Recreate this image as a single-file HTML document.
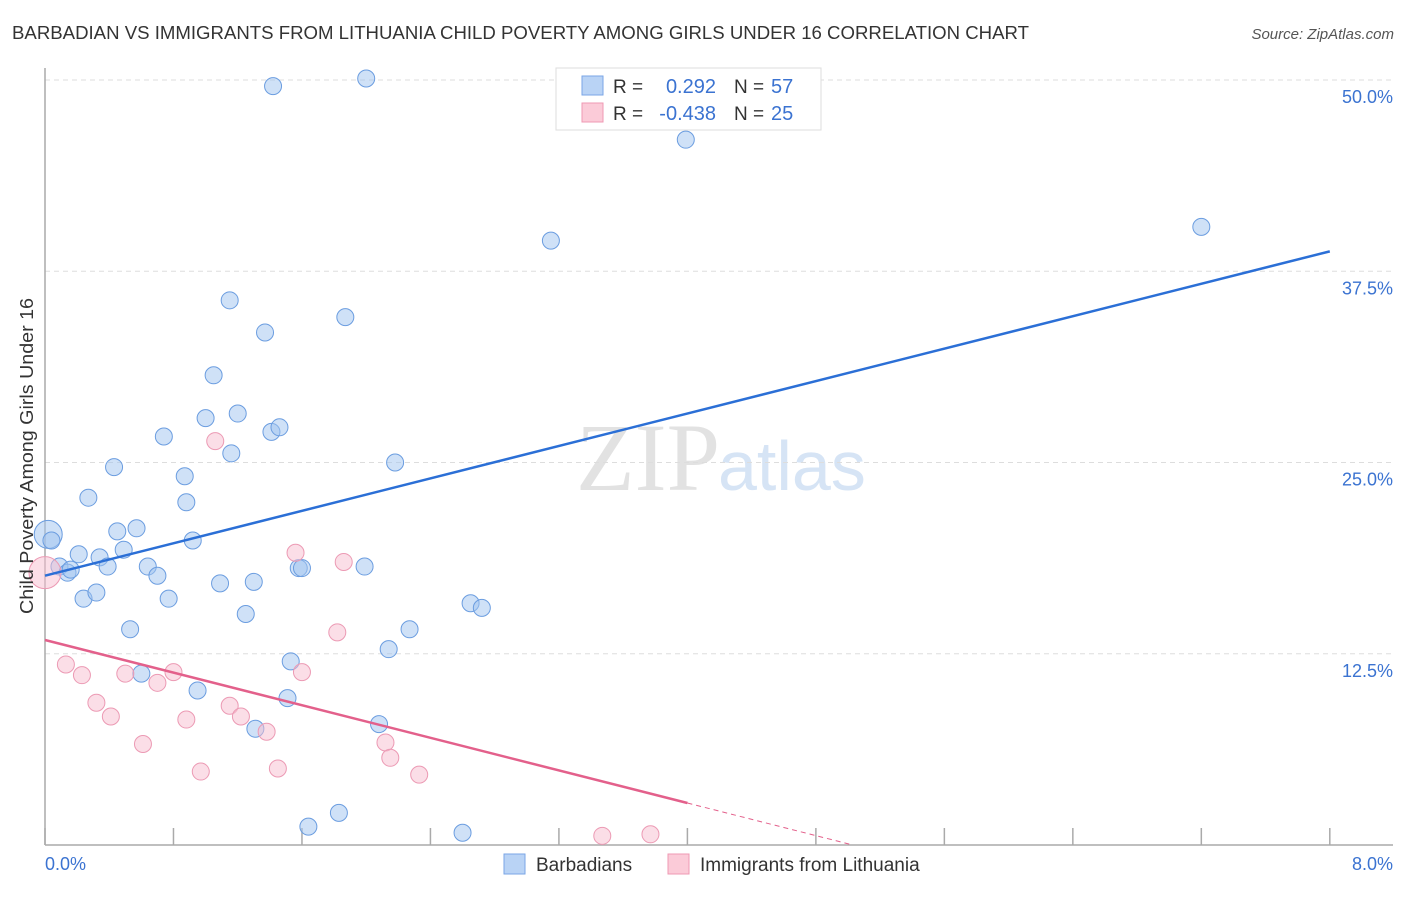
<!DOCTYPE html>
<html><head><meta charset="utf-8"><style>
body{margin:0;background:#fff;font-family:"Liberation Sans",sans-serif;}
</style></head><body>
<svg id="chart" width="1406" height="892" xmlns="http://www.w3.org/2000/svg">
<text x="12" y="39" font-size="18" fill="#333" textLength="1017" lengthAdjust="spacingAndGlyphs">BARBADIAN VS IMMIGRANTS FROM LITHUANIA CHILD POVERTY AMONG GIRLS UNDER 16 CORRELATION CHART</text>
<text x="1394" y="39" font-size="15" fill="#555" font-style="italic" text-anchor="end">Source: ZipAtlas.com</text>
<text x="720" y="490" font-size="96" fill="#e2e2e2" text-anchor="end" font-family="Liberation Serif">ZIP</text>
<text x="718" y="490" font-size="70" fill="#d6e4f5">atlas</text>
<g id="grid"></g>
<g id="axes"></g>
<g id="pts"></g>
<g id="lines"></g>
<text transform="translate(33,456) rotate(-90)" font-size="18" fill="#333" text-anchor="middle" textLength="316" lengthAdjust="spacingAndGlyphs">Child Poverty Among Girls Under 16</text>
<text x="45" y="870" font-size="18" fill="#3b73d1">0.0%</text>
<text x="1393" y="870" font-size="18" fill="#3b73d1" text-anchor="end">8.0%</text>
<g>
<rect x="556" y="68" width="265" height="62" fill="#fff" stroke="#ddd"/>
<rect x="582" y="76" width="21" height="19" fill="#b9d3f5" stroke="#7aa6e6"/>
<rect x="582" y="103" width="21" height="19" fill="#fbcbd8" stroke="#ef98b3"/>
<text x="613" y="93" font-size="19" fill="#333">R = </text>
<text x="716" y="93" font-size="20" fill="#3b73d1" text-anchor="end">0.292</text>
<text x="734" y="93" font-size="19" fill="#333">N = </text>
<text x="771" y="93" font-size="20" fill="#3b73d1">57</text>
<text x="613" y="120" font-size="19" fill="#333">R = </text>
<text x="716" y="120" font-size="20" fill="#3b73d1" text-anchor="end">-0.438</text>
<text x="734" y="120" font-size="19" fill="#333">N = </text>
<text x="771" y="120" font-size="20" fill="#3b73d1">25</text>
</g>
<g>
<rect x="504" y="854" width="21" height="20" fill="#b9d3f5" stroke="#7aa6e6"/>
<text x="536" y="871" font-size="19" fill="#333">Barbadians</text>
<text x="700" y="871" font-size="19" fill="#333">Immigrants from Lithuania</text>
<rect x="668" y="854" width="21" height="20" fill="#fbcbd8" stroke="#ef98b3"/>
</g>
</svg>
<script>
const yTicks=[12.5,25,37.5,50];
const yTickLabels=["12.5%","25.0%","37.5%","50.0%"];
const xTicks=[0,0.8,1.6,2.4,3.2,4.0,4.8,5.6,6.4,7.2,8.0];
const blueX=[0.02,0.04,0.09,0.14,0.16,0.21,0.24,0.27,0.32,0.34,0.39,0.43,0.45,0.49,0.53,0.57,0.60,0.64,0.70,0.74,0.77,0.87,0.88,0.92,0.95,1.00,1.05,1.09,1.15,1.16,1.20,1.25,1.30,1.31,1.37,1.41,1.46,1.51,1.53,1.58,1.60,1.64,1.83,1.87,1.99,2.00,2.08,2.14,2.18,2.27,2.60,2.65,2.72,3.15,3.99,7.20,1.42];
const blueY=[20.3,19.9,18.2,17.8,18.0,19.0,16.1,22.7,16.5,18.8,18.2,24.7,20.5,19.3,14.1,20.7,11.2,18.2,17.6,26.7,16.1,24.1,22.4,19.9,10.1,27.9,30.7,17.1,35.6,25.6,28.2,15.1,17.2,7.6,33.5,27.0,27.3,9.6,12.0,18.1,18.1,1.2,2.1,34.5,18.2,50.1,7.9,12.8,25.0,14.1,0.8,15.8,15.5,39.5,46.1,40.4,49.6];
const pinkX=[0.0,0.13,0.23,0.32,0.41,0.50,0.61,0.70,0.80,0.88,0.97,1.06,1.15,1.22,1.38,1.45,1.56,1.60,1.82,1.86,2.12,2.15,2.33,3.47,3.77];
const pinkY=[17.8,11.8,11.1,9.3,8.4,11.2,6.6,10.6,11.3,8.2,4.8,26.4,9.1,8.4,7.4,5.0,19.1,11.3,13.9,18.5,6.7,5.7,4.6,0.6,0.7];
const blueFit=[17.6,38.8];
const pinkFit=[13.4,-0.0];
const pinkFitEnd=5.03;
const pinkSolidEnd=4.0;
const X=v=>45+v*160.6, Y=v=>845-v*15.3;
const NS="http://www.w3.org/2000/svg";
function mk(tag,attrs,parent){const e=document.createElementNS(NS,tag);for(const k in attrs)e.setAttribute(k,attrs[k]);document.getElementById(parent).appendChild(e);return e;}
yTicks.forEach((t,i)=>{
 const l=mk('line',{x1:45,x2:1393,y1:Y(t),y2:Y(t),stroke:'#ddd','stroke-dasharray':'5,4'},'grid');
 
 
 const tx=mk('text',{x:1393,y:Y(t)+23,'font-size':18,fill:'#3b73d1','text-anchor':'end'},'grid');
 tx.textContent=yTickLabels[i];
 
 
});
const ax=mk('line',{x1:45,x2:45,y1:68,y2:845,stroke:'#aaa','stroke-width':1.5},'axes');


const bx=mk('line',{x1:45,x2:1393,y1:845,y2:845,stroke:'#aaa','stroke-width':1.5},'axes');


xTicks.forEach(t=>{
 const l=mk('line',{x1:X(t),x2:X(t),y1:828,y2:845,stroke:'#aaa','stroke-width':1.5},'axes');
 
 
});
blueX.forEach((x,i)=>{
 const c=mk('circle',{cx:X(x),cy:Y(blueY[i]),r:i===0?14:8.5,fill:'rgba(160,195,240,0.5)',stroke:'#6b9de0','stroke-width':1},'pts');
 
 
});
pinkX.forEach((x,i)=>{
 const c=mk('circle',{cx:X(x),cy:Y(pinkY[i]),r:i===0?16:8.5,fill:'rgba(248,190,208,0.5)',stroke:'#ec9ab4','stroke-width':1},'pts');
 
 
});
const bl=mk('line',{x1:X(0),y1:Y(blueFit[0]),x2:X(8),y2:Y(blueFit[1]),stroke:'#2b6fd6','stroke-width':2.5},'lines');


const slope=(pinkFit[1]-pinkFit[0])/pinkFitEnd;
const pl=mk('line',{x1:X(0),y1:Y(pinkFit[0]),x2:X(pinkSolidEnd),y2:Y(pinkFit[0]+slope*pinkSolidEnd),stroke:'#e3608b','stroke-width':2.5},'lines');


const pd=mk('line',{x1:X(pinkSolidEnd),y1:Y(pinkFit[0]+slope*pinkSolidEnd),x2:X(pinkFitEnd),y2:Y(pinkFit[1]),stroke:'#e3608b','stroke-width':1,'stroke-dasharray':'5,4'},'lines');


</script>
</body></html>
